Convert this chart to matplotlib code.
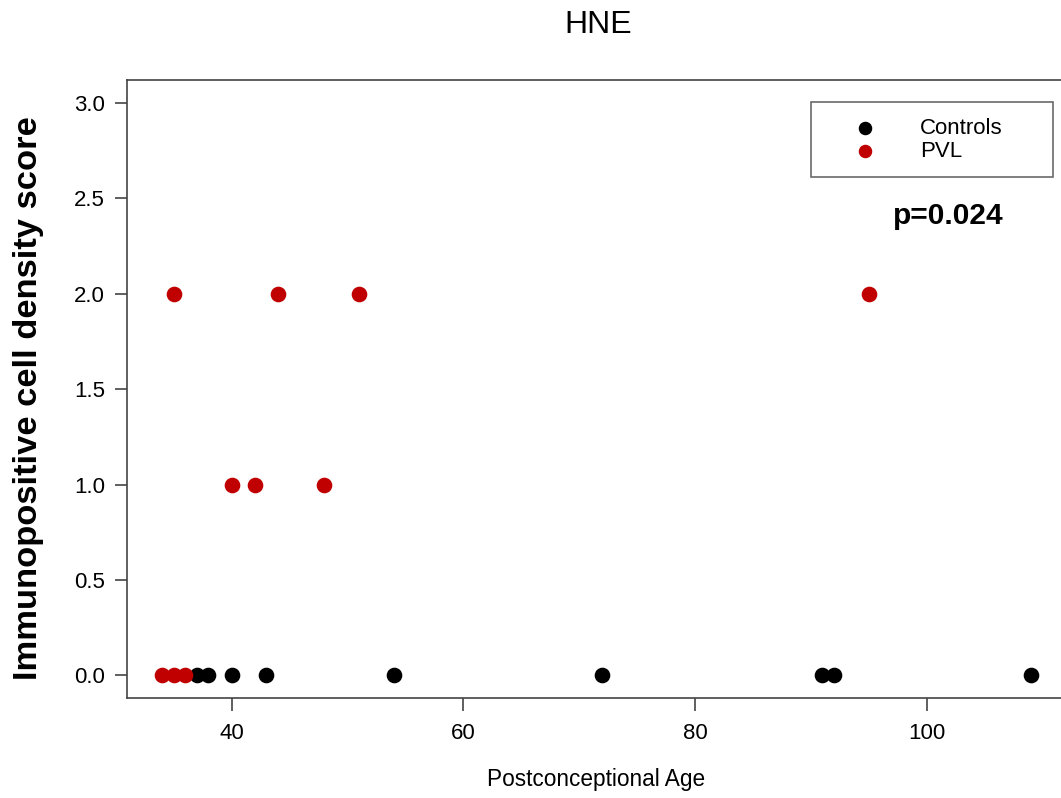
import numpy as np
import matplotlib.pyplot as plt

plt.rcParams['font.family'] = ['Liberation Sans', 'DejaVu Sans']

# Controls (all scored 0)
ctrl_age = [37, 38, 40, 43, 54, 72, 91, 92, 109]
ctrl_score = [0, 0, 0, 0, 0, 0, 0, 0, 0]
# PVL
pvl_age = [34, 35, 36, 35, 44, 51, 95, 40, 42, 48]
pvl_score = [0, 0, 0, 2, 2, 2, 2, 1, 1, 1]

yticks = [0.0, 0.5, 1.0, 1.5, 2.0, 2.5, 3.0]
xticks = [40, 60, 80, 100]

fig = plt.figure(figsize=(10.61, 7.98), dpi=100)
# right edge of the plot box runs just past the image border, as in the original
ax = fig.add_axes([0.12, 0.1249, 0.8844, 0.7748])

ax.scatter(ctrl_age, ctrl_score, s=105, color='black', label='Controls', zorder=3)
ax.scatter(pvl_age, pvl_score, s=105, color='#c00000', label='PVL', zorder=3)

ax.set_xlim(31, 112)
ax.set_ylim(-0.12, 3.12)
ax.set_xticks(xticks)
ax.set_yticks(yticks)
ax.set_yticklabels(['%.1f' % v for v in yticks])
ax.tick_params(labelsize=16, length=9, width=1.2, color='#444444')
ax.tick_params(axis='y', pad=7)
ax.tick_params(axis='x', pad=9)
for sp in ax.spines.values():
    sp.set_color('#444444')
    sp.set_linewidth(1.2)

fig.text(0.5635, 0.969, 'HNE', ha='center', va='center', fontsize=23)
ax.set_xlabel('Postconceptional Age', fontsize=16.3, va='center')
ax.xaxis.set_label_coords(0.4995, -0.132)
ax.set_ylabel('Immunopositive cell density score', fontsize=24.8, fontweight='bold', va='center')
ax.yaxis.set_label_coords(-0.1058, 0.4857)

leg = ax.legend(loc='upper left', bbox_to_anchor=(0.7286, 0.8434, 0.2579, 0.121),
                mode='expand', fontsize=16, frameon=True, fancybox=False,
                edgecolor='#444444', markerscale=0.85, handlelength=3.45,
                handletextpad=0.77, borderpad=0.7, labelspacing=0.1, borderaxespad=0)
leg.get_frame().set_linewidth(1.2)

ax.text(101.84, 2.407, 'p=0.024', ha='center', va='center', fontsize=21.5, fontweight='bold')

fig.savefig('out.png', dpi=100)
